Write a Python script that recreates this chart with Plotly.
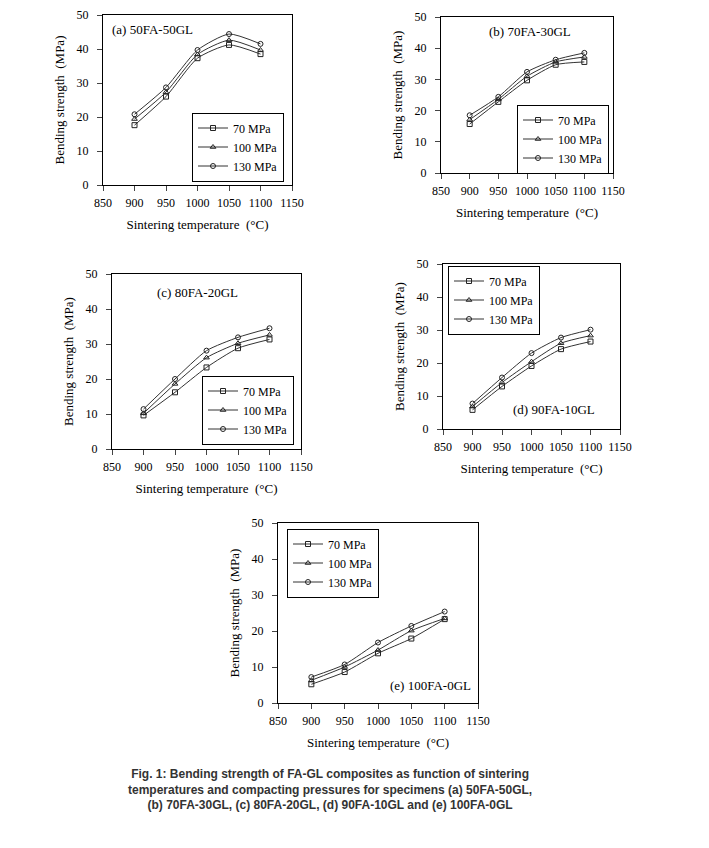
import plotly.graph_objects as go

temps = [900, 950, 1000, 1050, 1100]
pressures = ["70 MPa", "100 MPa", "130 MPa"]
symbols = ["square-open", "triangle-up-open", "circle-open"]

a_70 = [17.6, 26.0, 37.3, 41.2, 38.5]
a_100 = [19.4, 27.3, 38.4, 42.6, 39.7]
a_130 = [20.8, 28.7, 39.7, 44.4, 41.5]

b_70 = [15.7, 22.8, 29.7, 34.7, 35.6]
b_100 = [17.1, 23.6, 31.0, 35.6, 37.2]
b_130 = [18.5, 24.4, 32.4, 36.3, 38.5]

c_70 = [9.6, 16.2, 23.3, 28.8, 31.3]
c_100 = [10.2, 18.6, 26.1, 30.2, 32.6]
c_130 = [11.4, 20.0, 28.1, 31.9, 34.5]

d_70 = [5.8, 12.9, 19.1, 24.2, 26.5]
d_100 = [6.8, 14.1, 20.4, 26.0, 28.3]
d_130 = [7.7, 15.6, 23.0, 27.7, 30.1]

e_70 = [5.2, 8.6, 13.8, 17.9, 23.3]
e_100 = [6.3, 10.0, 14.7, 20.1, 23.5]
e_130 = [7.2, 10.7, 16.8, 21.4, 25.4]

panel_labels = ["(a) 50FA-50GL", "(b) 70FA-30GL", "(c) 80FA-20GL", "(d) 90FA-10GL", "(e) 100FA-0GL"]
x_ticks = [850, 900, 950, 1000, 1050, 1100, 1150]
y_ticks = [0, 10, 20, 30, 40, 50]
caption = ("Fig. 1: Bending strength of FA-GL composites as function of sintering<br>"
           "temperatures and compacting pressures for specimens (a) 50FA-50GL,<br>"
           "(b) 70FA-30GL, (c) 80FA-20GL, (d) 90FA-10GL and (e) 100FA-0GL")

panels_data = [
    [a_70, a_100, a_130],
    [b_70, b_100, b_130],
    [c_70, c_100, c_130],
    [d_70, d_100, d_130],
    [e_70, e_100, e_130],
]

W, H = 709, 848
OFF = 8  # page body margin offset

def fx(px):
    return (px - OFF) / W

def fy(py):
    return 1 - (py - OFF) / H

# plot-area pixel boxes (x0, x1, y0_top, y1_bottom)
boxes = [
    (103, 292, 15, 185),
    (441, 613, 17, 173),
    (112, 301, 274, 449),
    (443, 620, 264, 429),
    (278, 478, 523, 703),
]
# legend box centres
legend_pos = [
    (238, 147),
    (563, 139),
    (248, 410),
    (494, 300),
    (333, 563),
]
label_pos = [
    (110, 29, "left"),
    (487, 32, "left"),
    (155, 292, "left"),
    (597, 409, "right"),
    (473, 685, "right"),
]

SERIF = "Liberation Serif"
fig = go.Figure()
layout = dict(
    width=W, height=H,
    margin=dict(l=0, r=0, t=0, b=0, autoexpand=False),
    paper_bgcolor="white", plot_bgcolor="white",
    showlegend=True,
    font=dict(family=SERIF, color="black", size=12),
)

annotations = []
for i, (data, box) in enumerate(zip(panels_data, boxes)):
    sfx = "" if i == 0 else str(i + 1)
    x0, x1, yt, yb = box
    lg = "legend" if i == 0 else f"legend{i+1}"
    for j in range(3):
        fig.add_trace(go.Scatter(
            x=temps, y=data[j], name=pressures[j],
            mode="lines+markers",
            line=dict(color="#333", width=1, shape="spline", smoothing=0.6),
            marker=dict(symbol=symbols[j], size=5, color="#222", line=dict(width=1, color="#222")),
            xaxis="x" + sfx, yaxis="y" + sfx, legend=lg,
        ))
    layout["xaxis" + sfx] = dict(
        domain=[fx(x0), fx(x1)], anchor="y" + sfx, automargin=False,
        range=[850, 1150], tickvals=x_ticks, ticks="outside", ticklen=5,
        ticklabelstandoff=2,
        showline=True, linecolor="black", linewidth=1, mirror=True,
        showgrid=False, zeroline=False,
        tickfont=dict(family=SERIF, size=12),
        title=dict(text="Sintering temperature  (°C)", font=dict(family=SERIF, size=13), standoff=10),
    )
    layout["yaxis" + sfx] = dict(
        domain=[fy(yb), fy(yt)], anchor="x" + sfx, automargin=False,
        range=[0, 50], tickvals=y_ticks, ticks="outside", ticklen=5,
        ticklabelstandoff=6,
        showline=True, linecolor="black", linewidth=1, mirror=True,
        showgrid=False, zeroline=False,
        tickfont=dict(family=SERIF, size=12),
        title=dict(text="Bending strength  (MPa)", font=dict(family=SERIF, size=13), standoff=9),
    )
    lx, ly = legend_pos[i]
    layout[lg] = dict(
        x=fx(lx), y=fy(ly), xanchor="center", yanchor="middle",
        bgcolor="white", bordercolor="black", borderwidth=1,
        font=dict(family=SERIF, size=12), tracegroupgap=0,
        itemwidth=30,
    )
    px, py, al = label_pos[i]
    annotations.append(dict(
        x=fx(px), y=fy(py), xref="paper", yref="paper",
        text=panel_labels[i], showarrow=False,
        xanchor=al, yanchor="middle",
        font=dict(family=SERIF, size=13, color="black"),
    ))

annotations.append(dict(
    x=fx(330), y=fy(789), xref="paper", yref="paper",
    text="<b>" + caption + "</b>", showarrow=False, align="center",
    xanchor="center", yanchor="middle",
    font=dict(family="Liberation Sans", size=12, color="#333"),
))
layout["annotations"] = annotations
fig.update_layout(**layout)
fig.write_html("out.html")
